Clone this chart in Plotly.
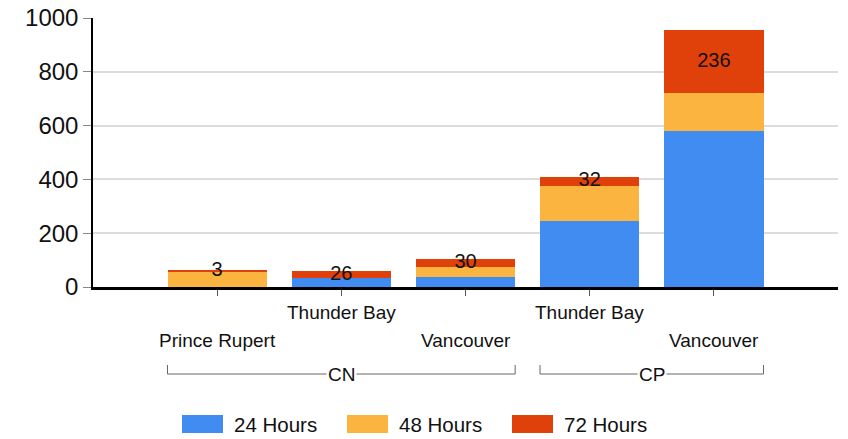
import plotly.graph_objects as go

# ---- data ----
groups = ["CN", "CN", "CN", "CP", "CP"]
cities = ["Prince Rupert", "Thunder Bay", "Vancouver", "Thunder Bay", "Vancouver"]
series_names = ["24 Hours", "48 Hours", "72 Hours"]
h24 = [0, 33, 38, 245, 581]
h48 = [58, 0, 35, 132, 139]
h72 = [3, 26, 30, 32, 236]
y_ticks = [0, 200, 400, 600, 800, 1000]

colors = ["#418CF0", "#FCB441", "#E0400A"]
FONT = "Liberation Sans, Arial, sans-serif"
TXT = "#111111"

W, H = 848, 439
L, R, T, B = 93, 10, 18, 152
PW, PH = W - L - R, H - T - B


def py(p):  # page pixel -> paper y
    return (T + PH - p) / PH


def px(p):  # page pixel -> paper x
    return (p - L) / PW


idx = list(range(len(cities)))
fig = go.Figure()
for name, vals, col in zip(series_names, [h24, h48, h72], colors):
    fig.add_trace(go.Bar(x=idx, y=vals, name=name, marker_color=col,
                         marker_line_width=0, showlegend=False))

# labels of the 72 Hours segment, centred in that segment
mid = [a + b + c / 2 for a, b, c in zip(h24, h48, h72)]
fig.add_trace(go.Scatter(x=idx, y=mid, mode="text", text=[str(v) for v in h72],
                         textfont=dict(family=FONT, size=20, color=TXT),
                         showlegend=False, cliponaxis=False, hoverinfo="skip"))

annotations = []
shapes = []
# staggered city labels
for i, c in zip(idx, cities):
    yy = py(312) if i % 2 == 1 else py(340)
    annotations.append(dict(x=i, y=yy, xref="x", yref="paper", text=c, showarrow=False,
                            xanchor="center", yanchor="middle",
                            font=dict(family=FONT, size=19, color=TXT)))

# group brackets
half = 0.4
for g in dict.fromkeys(groups):
    members = [i for i, gg in zip(idx, groups) if gg == g]
    x0, x1 = min(members) - half, max(members) + half
    yb, yt = py(374), py(365)
    line = dict(color="#666666", width=1)
    shapes.append(dict(type="line", xref="x", yref="paper", x0=x0, x1=x1, y0=yb, y1=yb, line=line))
    shapes.append(dict(type="line", xref="x", yref="paper", x0=x0, x1=x0, y0=yb, y1=yt, line=line))
    shapes.append(dict(type="line", xref="x", yref="paper", x0=x1, x1=x1, y0=yb, y1=yt, line=line))
    annotations.append(dict(x=(x0 + x1) / 2, y=yb, xref="x", yref="paper", text=g, showarrow=False,
                            xanchor="center", yanchor="middle", bgcolor="white", borderpad=1,
                            font=dict(family=FONT, size=19, color=TXT)))

# custom legend
for i, (name, col) in enumerate(zip(series_names, colors)):
    sx = 182 + i * 165
    shapes.append(dict(type="rect", xref="paper", yref="paper", x0=px(sx), x1=px(sx + 41),
                       y0=py(433), y1=py(415), fillcolor=col, line=dict(width=0)))
    annotations.append(dict(x=px(sx + 50), y=py(424), xref="paper", yref="paper", text=name,
                            showarrow=False, xanchor="left", yanchor="middle",
                            font=dict(family=FONT, size=20.5, color=TXT)))

fig.update_layout(
    width=W, height=H, margin=dict(l=L, r=R, t=T, b=B, autoexpand=False),
    barmode="stack", bargap=0.2,
    paper_bgcolor="white", plot_bgcolor="white",
    font=dict(family=FONT, color=TXT),
    showlegend=False,
    xaxis=dict(range=[-1, 5], tickvals=idx, ticktext=[""] * len(idx), ticks="outside",
               ticklen=6, tickcolor="#555", showgrid=False, zeroline=False, automargin=False,
               showline=True, linecolor="black", linewidth=3, fixedrange=True),
    yaxis=dict(range=[0, 1000], tickvals=y_ticks, ticks="outside", ticklen=8, tickcolor="#888",
               showgrid=True, gridcolor="#dcdcdc", gridwidth=2, zeroline=False, automargin=False,
               showline=True, linecolor="black", linewidth=1.5, ticklabeloverflow="allow",
               tickfont=dict(family=FONT, size=24, color=TXT), fixedrange=True),
    annotations=annotations, shapes=shapes,
)

fig.write_html("out.html", config={"displayModeBar": False},
               post_script="document.body.style.margin='0';document.body.style.overflow='hidden';")
